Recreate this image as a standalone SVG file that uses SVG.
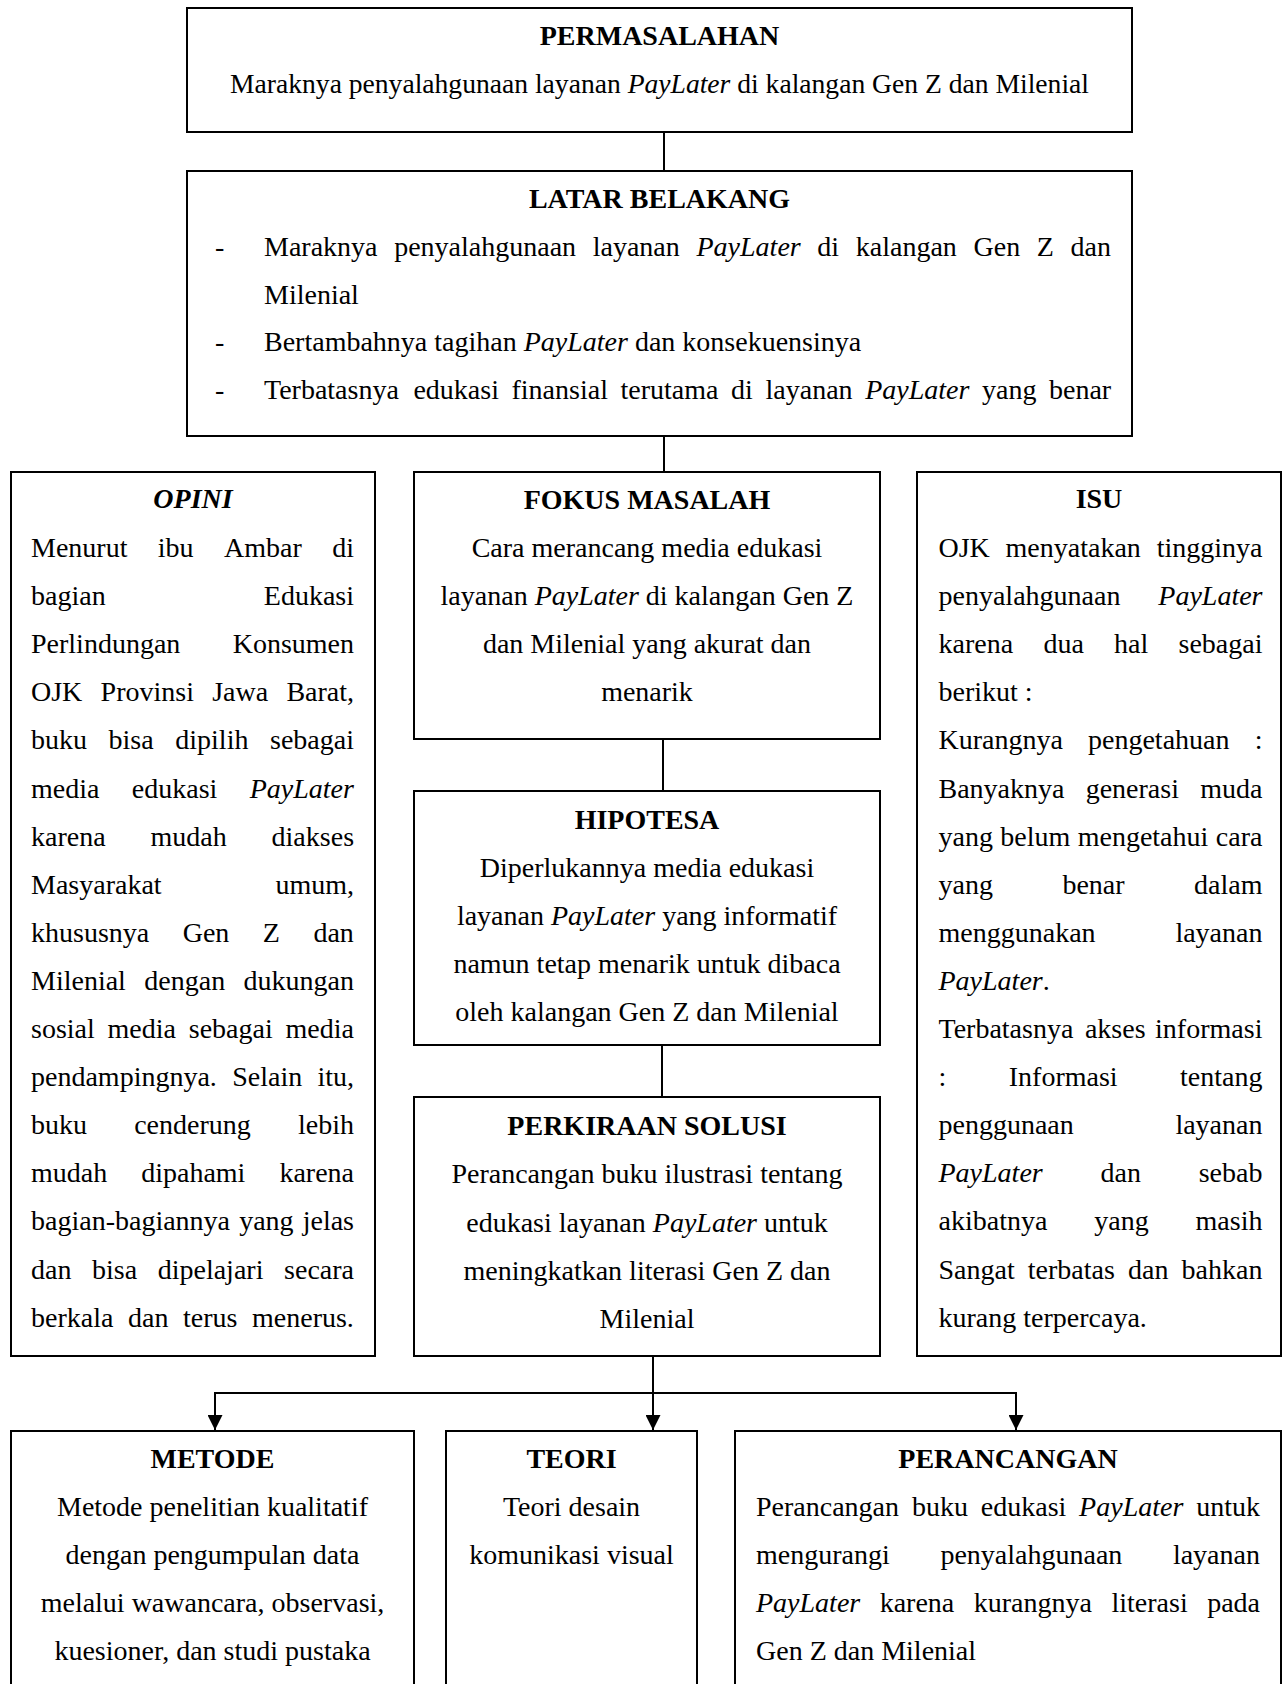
<svg xmlns="http://www.w3.org/2000/svg" width="1288" height="1684" viewBox="0 0 1288 1684">
<style>
.t{font-family:"Liberation Serif","Times New Roman",serif;font-size:28px;fill:#000}
.b{font-weight:bold}
.i{font-style:italic}
.c{text-anchor:middle}
.box{fill:#fff;stroke:#000;stroke-width:2}
.ln{fill:none;stroke:#000;stroke-width:2}
</style>
<defs>
<marker id="arr" viewBox="0 0 10 10" refX="10" refY="5" markerUnits="userSpaceOnUse" markerWidth="15" markerHeight="15" orient="auto">
<path d="M0,0 L10,5 L0,10 z" fill="#000"/>
</marker>
</defs>
<rect width="1288" height="1684" fill="#fff"/>

<g id="connectors">
<path class="ln" d="M664,132 V171"/>
<path class="ln" d="M664,436 V472"/>
<path class="ln" d="M663,739 V791"/>
<path class="ln" d="M662,1045 V1097"/>
<path class="ln" d="M215,1393 H1016"/>
<path class="ln" d="M653,1356 V1430" marker-end="url(#arr)"/>
<path class="ln" d="M215,1392 V1430" marker-end="url(#arr)"/>
<path class="ln" d="M1016,1392 V1430" marker-end="url(#arr)"/>
</g>

<g id="permasalahan">
<rect class="box" x="187" y="8" width="945" height="124"/>
<text class="t b c" x="659.5" y="45">PERMASALAHAN</text>
<text class="t c" x="659.5" y="93" style="font-size:27.6px">Maraknya penyalahgunaan layanan <tspan class="i">PayLater</tspan> di kalangan Gen Z dan Milenial</text>
</g>

<g id="latar-belakang">
<rect class="box" x="187" y="171" width="945" height="265"/>
<text class="t b c" x="659.5" y="208">LATAR BELAKANG</text>
<text class="t" x="215" y="256">-</text>
<text class="t" y="256"><tspan x="264">Maraknya</tspan><tspan x="394.2">penyalahgunaan</tspan><tspan x="592.7">layanan</tspan><tspan x="696.5" class="i">PayLater</tspan><tspan x="817.3">di</tspan><tspan x="855.8">kalangan</tspan><tspan x="973.5">Gen</tspan><tspan x="1036.8">Z</tspan><tspan x="1070.5">dan</tspan></text>
<text class="t" x="264" y="303.5">Milenial</text>
<text class="t" x="215" y="351">-</text>
<text class="t" x="264" y="351">Bertambahnya tagihan <tspan class="i">PayLater</tspan> dan konsekuensinya</text>
<text class="t" x="215" y="399">-</text>
<text class="t" y="399"><tspan x="264">Terbatasnya</tspan><tspan x="413.4">edukasi</tspan><tspan x="511.5">finansial</tspan><tspan x="620.5">terutama</tspan><tspan x="731.1">di</tspan><tspan x="765.5">layanan</tspan><tspan x="865.2" class="i">PayLater</tspan><tspan x="982">yang</tspan><tspan x="1049">benar</tspan></text>
</g>

<g id="opini">
<rect class="box" x="11" y="472" width="364" height="884"/>
<text class="t b i c" x="193" y="508">OPINI</text>
<text class="t" y="557"><tspan x="31">Menurut</tspan><tspan x="157.8">ibu</tspan><tspan x="224">Ambar</tspan><tspan x="332.2">di</tspan></text>
<text class="t" y="605.1"><tspan x="31">bagian</tspan><tspan x="263.8">Edukasi</tspan></text>
<text class="t" y="653.2"><tspan x="31">Perlindungan</tspan><tspan x="232.7">Konsumen</tspan></text>
<text class="t" y="701.3"><tspan x="31">OJK</tspan><tspan x="100.6">Provinsi</tspan><tspan x="212.2">Jawa</tspan><tspan x="286.4">Barat,</tspan></text>
<text class="t" y="749.4"><tspan x="31">buku</tspan><tspan x="108.6">bisa</tspan><tspan x="175.3">dipilih</tspan><tspan x="270">sebagai</tspan></text>
<text class="t" y="797.5"><tspan x="31">media</tspan><tspan x="131.8">edukasi</tspan><tspan x="249.7" class="i">PayLater</tspan></text>
<text class="t" y="845.6"><tspan x="31">karena</tspan><tspan x="150.5">mudah</tspan><tspan x="271.6">diakses</tspan></text>
<text class="t" y="893.7"><tspan x="31">Masyarakat</tspan><tspan x="275.4">umum,</tspan></text>
<text class="t" y="941.8"><tspan x="31">khususnya</tspan><tspan x="182.7">Gen</tspan><tspan x="262.8">Z</tspan><tspan x="313.4">dan</tspan></text>
<text class="t" y="989.9"><tspan x="31">Milenial</tspan><tspan x="144.3">dengan</tspan><tspan x="243.6">dukungan</tspan></text>
<text class="t" y="1038"><tspan x="31">sosial</tspan><tspan x="107.6">media</tspan><tspan x="188.8">sebagai</tspan><tspan x="285.6">media</tspan></text>
<text class="t" y="1086.1"><tspan x="31">pendampingnya.</tspan><tspan x="232.2">Selain</tspan><tspan x="317.5">itu,</tspan></text>
<text class="t" y="1134.2"><tspan x="31">buku</tspan><tspan x="134.2">cenderung</tspan><tspan x="298">lebih</tspan></text>
<text class="t" y="1182.3"><tspan x="31">mudah</tspan><tspan x="141.2">dipahami</tspan><tspan x="279.4">karena</tspan></text>
<text class="t" y="1230.4"><tspan x="31">bagian-bagiannya</tspan><tspan x="239.2">yang</tspan><tspan x="302.7">jelas</tspan></text>
<text class="t" y="1278.5"><tspan x="31">dan</tspan><tspan x="92">bisa</tspan><tspan x="157.7">dipelajari</tspan><tspan x="284.1">secara</tspan></text>
<text class="t" y="1326.6"><tspan x="31">berkala</tspan><tspan x="128">dan</tspan><tspan x="183">terus</tspan><tspan x="252">menerus.</tspan></text>
</g>

<g id="fokus-masalah">
<rect class="box" x="414" y="472" width="466" height="267"/>
<text class="t b c" x="647" y="509">FOKUS MASALAH</text>
<text class="t c" x="647" y="557">Cara merancang media edukasi</text>
<text class="t c" x="647" y="605">layanan <tspan class="i">PayLater</tspan> di kalangan Gen Z</text>
<text class="t c" x="647" y="653">dan Milenial yang akurat dan</text>
<text class="t c" x="647" y="701">menarik</text>
</g>

<g id="hipotesa">
<rect class="box" x="414" y="791" width="466" height="254"/>
<text class="t b c" x="647" y="829">HIPOTESA</text>
<text class="t c" x="647" y="877">Diperlukannya media edukasi</text>
<text class="t c" x="647" y="925">layanan <tspan class="i">PayLater</tspan> yang informatif</text>
<text class="t c" x="647" y="973">namun tetap menarik untuk dibaca</text>
<text class="t c" x="647" y="1021">oleh kalangan Gen Z dan Milenial</text>
</g>

<g id="perkiraan-solusi">
<rect class="box" x="414" y="1097" width="466" height="259"/>
<text class="t b c" x="647" y="1135">PERKIRAAN SOLUSI</text>
<text class="t c" x="647" y="1183">Perancangan buku ilustrasi tentang</text>
<text class="t c" x="647" y="1232">edukasi layanan <tspan class="i">PayLater</tspan> untuk</text>
<text class="t c" x="647" y="1280">meningkatkan literasi Gen Z dan</text>
<text class="t c" x="647" y="1328">Milenial</text>
</g>

<g id="isu">
<rect class="box" x="917" y="472" width="364" height="884"/>
<text class="t b c" x="1099" y="508">ISU</text>
<text class="t" y="557"><tspan x="938.5">OJK</tspan><tspan x="1005.6">menyatakan</tspan><tspan x="1156.7">tingginya</tspan></text>
<text class="t" y="605.1"><tspan x="938.5">penyalahgunaan</tspan><tspan x="1158.3" class="i">PayLater</tspan></text>
<text class="t" y="653.2"><tspan x="938.5">karena</tspan><tspan x="1043.4">dua</tspan><tspan x="1114">hal</tspan><tspan x="1178.5">sebagai</tspan></text>
<text class="t" x="938.5" y="701.3">berikut :</text>
<text class="t" y="749.4"><tspan x="938.5">Kurangnya</tspan><tspan x="1088">pengetahuan</tspan><tspan x="1254.7">:</tspan></text>
<text class="t" y="797.5"><tspan x="938.5">Banyaknya</tspan><tspan x="1085.7">generasi</tspan><tspan x="1200.3">muda</tspan></text>
<text class="t" y="845.6"><tspan x="938.5">yang</tspan><tspan x="1000.3">belum</tspan><tspan x="1077.7">mengetahui</tspan><tspan x="1215.8">cara</tspan></text>
<text class="t" y="893.7"><tspan x="938.5">yang</tspan><tspan x="1062.4">benar</tspan><tspan x="1194.1">dalam</tspan></text>
<text class="t" y="941.8"><tspan x="938.5">menggunakan</tspan><tspan x="1175.4">layanan</tspan></text>
<text class="t i" x="938.5" y="989.9">PayLater<tspan font-style="normal">.</tspan></text>
<text class="t" y="1038"><tspan x="938.5">Terbatasnya</tspan><tspan x="1084.9">akses</tspan><tspan x="1155.1">informasi</tspan></text>
<text class="t" y="1086.1"><tspan x="938.5">:</tspan><tspan x="1008.8">Informasi</tspan><tspan x="1180.1">tentang</tspan></text>
<text class="t" y="1134.2"><tspan x="938.5">penggunaan</tspan><tspan x="1175.4">layanan</tspan></text>
<text class="t" y="1182.3"><tspan x="938.5" class="i">PayLater</tspan><tspan x="1100.5">dan</tspan><tspan x="1198.7">sebab</tspan></text>
<text class="t" y="1230.4"><tspan x="938.5">akibatnya</tspan><tspan x="1094.3">yang</tspan><tspan x="1195.6">masih</tspan></text>
<text class="t" y="1278.5"><tspan x="938.5">Sangat</tspan><tspan x="1027.8">terbatas</tspan><tspan x="1128">dan</tspan><tspan x="1181.6">bahkan</tspan></text>
<text class="t" x="938.5" y="1326.6">kurang terpercaya.</text>
</g>

<g id="metode">
<rect class="box" x="11" y="1431" width="403" height="300"/>
<text class="t b c" x="212.5" y="1468">METODE</text>
<text class="t c" x="212.5" y="1516">Metode penelitian kualitatif</text>
<text class="t c" x="212.5" y="1564">dengan pengumpulan data</text>
<text class="t c" x="212.5" y="1612">melalui wawancara, observasi,</text>
<text class="t c" x="212.5" y="1660">kuesioner, dan studi pustaka</text>
</g>

<g id="teori">
<rect class="box" x="446" y="1431" width="251" height="300"/>
<text class="t b c" x="571.5" y="1468">TEORI</text>
<text class="t c" x="571.5" y="1516">Teori desain</text>
<text class="t c" x="571.5" y="1564">komunikasi visual</text>
</g>

<g id="perancangan">
<rect class="box" x="735" y="1431" width="546" height="300"/>
<text class="t b c" x="1008" y="1468">PERANCANGAN</text>
<text class="t" y="1516"><tspan x="756">Perancangan</tspan><tspan x="911.9">buku</tspan><tspan x="980.8">edukasi</tspan><tspan x="1079.1" class="i">PayLater</tspan><tspan x="1196.2">untuk</tspan></text>
<text class="t" y="1564"><tspan x="756">mengurangi</tspan><tspan x="940.4">penyalahgunaan</tspan><tspan x="1172.9">layanan</tspan></text>
<text class="t" y="1612"><tspan x="756" class="i">PayLater</tspan><tspan x="879.7">karena</tspan><tspan x="973.8">kurangnya</tspan><tspan x="1111.5">literasi</tspan><tspan x="1207.2">pada</tspan></text>
<text class="t" x="756" y="1660">Gen Z dan Milenial</text>
</g>
</svg>
